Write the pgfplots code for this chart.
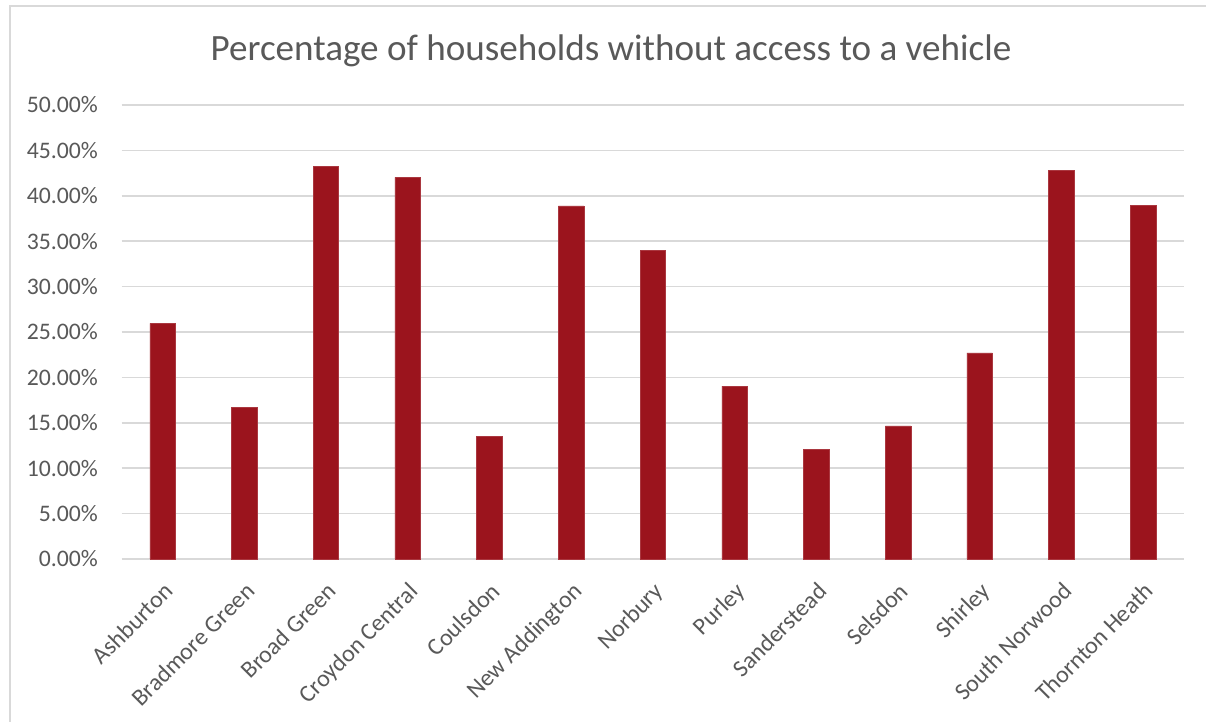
\documentclass[border=0pt]{standalone}
\usepackage{pgfplots}
\pgfplotsset{compat=1.18}
\usepackage{fontspec}
\setmainfont{Carlito}
\definecolor{barred}{RGB}{155,20,29}
\definecolor{txtgray}{RGB}{89,89,89}
\definecolor{gridgray}{RGB}{217,217,217}
\begin{document}
\begin{tikzpicture}[x=1bp,y=1bp]
\useasboundingbox (0,0) rectangle (1206,722);
\fill[white] (0,0) rectangle (1206,722);
\draw[gridgray, line width=1.5bp] (10,-2) -- (10,716) -- (1208,716);
\begin{axis}[
  at={(121.7bp,163bp)}, anchor=south west,
  scale only axis, width=1062.3bp, height=454bp,
  xmin=-0.5, xmax=12.5, ymin=0, ymax=50,
  ybar, bar width=25.5bp,
  axis line style={draw=none},
  major tick length=0pt,
  ymajorgrids=true, xmajorgrids=false,
  grid style={gridgray, line width=1.5bp},
  ytick={0,5,...,50},
  yticklabels={0.00\%,5.00\%,10.00\%,15.00\%,20.00\%,25.00\%,30.00\%,35.00\%,40.00\%,45.00\%,50.00\%},
  yticklabel style={font=\fontsize{23.7bp}{28bp}\selectfont, text=txtgray, anchor=east, inner sep=0pt, xshift=-23.7bp},
  xtick={0,...,12},
  xticklabels={Ashburton,Bradmore Green,Broad Green,Croydon Central,Coulsdon,New Addington,Norbury,Purley,Sanderstead,Selsdon,Shirley,South Norwood,Thornton Heath},
  xticklabel style={font=\fontsize{24bp}{28bp}\selectfont, text=txtgray, rotate=45, anchor=north east, inner sep=0pt},
  xticklabel shift=22bp,
  title={Percentage of households without access to a vehicle},
  title style={font=\fontsize{37.1bp}{44bp}\selectfont, text=txtgray, at={(rel axis cs:0.4606,1.0844)}, anchor=base, inner sep=0pt},
  clip=false,
]
\addplot[fill=barred, draw=barred!85!white, line width=0.5bp] coordinates {
  (0,25.96) (1,16.66) (2,43.25) (3,42.04) (4,13.47) (5,38.88) (6,34.00)
  (7,19.05) (8,12.08) (9,14.65) (10,22.69) (11,42.84) (12,38.91)
};
\end{axis}
\end{tikzpicture}
\end{document}
